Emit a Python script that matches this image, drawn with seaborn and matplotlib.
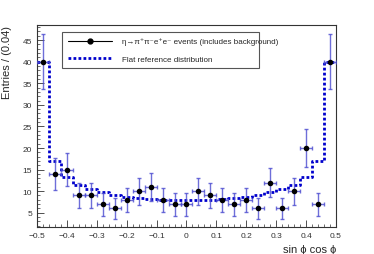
import numpy as np
import pandas as pd
import matplotlib
matplotlib.use("Agg")
import matplotlib.pyplot as plt
import seaborn as sns

# bin centres (width 0.04) and the data
centers = [-0.48, -0.44, -0.40, -0.36, -0.32, -0.28, -0.24, -0.20, -0.16, -0.12,
           -0.08, -0.04, 0.00, 0.04, 0.08, 0.12, 0.16, 0.20, 0.24, 0.28,
           0.32, 0.36, 0.40, 0.44, 0.48]
counts = [40, 14, 15, 9, 9, 7, 6, 8, 10, 11,
          8, 7, 7, 10, 9, 8, 7, 8, 6, 12,
          6, 10, 20, 7, 40]
reference = [40, 17, 13.3, 11.5, 10.5, 9.7, 9.1, 8.7, 8.4, 8.2,
             8.0, 7.9, 7.9, 7.9, 8.0, 8.2, 8.4, 8.7, 9.1, 9.7,
             10.5, 11.5, 13.3, 17, 40]
edges = list(np.linspace(-0.5, 0.5, 26))

df = pd.DataFrame({"x": centers, "n": counts, "ref": reference})

sns.set_style("ticks")
plt.rcParams['font.family'] = ['Liberation Sans', 'DejaVu Sans']

fig = plt.figure(figsize=(3.74, 2.55), dpi=100)
ax = fig.add_axes([37/374, 1 - 228/255, 299/374, 202/255])

sns.histplot(data=df, x="x", weights="ref", bins=edges, element="step", fill=False,
             color="#0000cc", linestyle=(0, (1, 0.8)), linewidth=2, ax=ax)

errs = np.sqrt(df["n"])
ax.errorbar(df["x"], df["n"], yerr=errs, xerr=0.02, fmt="none", ecolor="#4a4ad0",
            elinewidth=1, capsize=1.2, alpha=0.8, zorder=3)
sns.scatterplot(data=df, x="x", y="n", color="black", s=16, edgecolor="black",
                linewidth=0, ax=ax, zorder=4)

ax.set_xlim(-0.5, 0.5)
ax.set_ylim(1.7, 48.5)
ax.set_xticks(np.arange(-0.5, 0.51, 0.1))
ax.set_xticklabels(["\u22120.5", "\u22120.4", "\u22120.3", "\u22120.2", "\u22120.1",
                    "0", "0.1", "0.2", "0.3", "0.4", "0.5"])
ax.set_xticks(np.arange(-0.5, 0.51, 0.02), minor=True)
ax.set_yticks([5, 10, 15, 20, 25, 30, 35, 40, 45])
ax.set_yticks(np.arange(2, 49, 1), minor=True)
ax.tick_params(which="both", direction="in", labelsize=6, colors="#333333",
               labelcolor="#333333")
ax.tick_params(which="major", length=5, width=0.6)
ax.tick_params(which="minor", length=2.5, width=0.5)
for s in ax.spines.values():
    s.set_linewidth(0.8)
    s.set_color("#333333")

ax.set_xlabel("sin \u03d5 cos \u03d5", fontsize=8, ha="right")
ax.xaxis.set_label_coords(1.0, -0.085)
ax.set_ylabel("Entries / (0.04)", fontsize=8, ha="right")
ax.yaxis.set_label_coords(-0.085, 1.0)

# legend
h_data = plt.Line2D([], [], color="black", marker="o", markersize=3.5, linewidth=0.8)
h_ref = plt.Line2D([], [], color="#0000cc", linestyle=(0, (1, 0.8)), linewidth=2)
leg = ax.legend([h_data, h_ref],
                ["\u03b7\u2192\u03c0\u207a\u03c0\u207be\u207ae\u207b events (includes background)",
                 "Flat reference distribution"],
                loc="upper left", bbox_to_anchor=(0.07, 0.807, 0.686, 0.178),
                mode="expand", fontsize=5.8, frameon=True, fancybox=False,
                edgecolor="#555555", framealpha=1, handlelength=5.5,
                labelspacing=1.2, borderpad=0.7, handletextpad=1.2)
leg.get_frame().set_linewidth(0.8)

fig.savefig("out.png", dpi=100)
